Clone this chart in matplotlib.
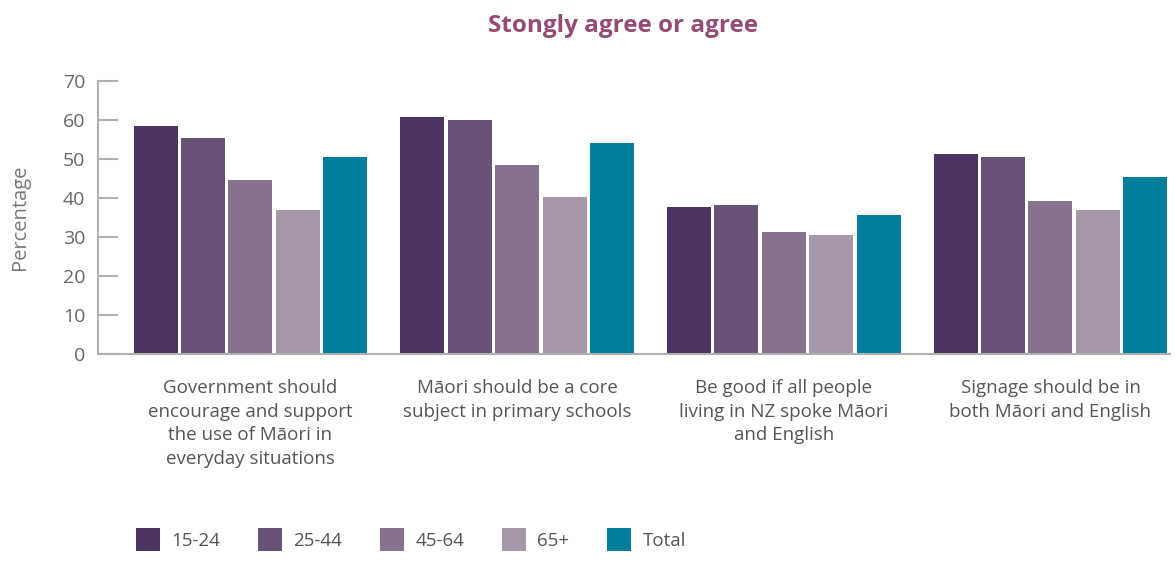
import matplotlib.pyplot as plt
import numpy as np

plt.rcParams['font.family'] = ['Open Sans', 'DejaVu Sans']

categories = ['Government should\nencourage and support\nthe use of Māori in\neveryday situations',
              'Māori should be a core\nsubject in primary schools',
              'Be good if all people\nliving in NZ spoke Māori\nand English',
              'Signage should be in\nboth Māori and English']
groups = ['15-24', '25-44', '45-64', '65+', 'Total']
v_15_24 = [58.5, 60.8, 37.8, 51.3]
v_25_44 = [55.4, 60.0, 38.3, 50.6]
v_45_64 = [44.7, 48.5, 31.4, 39.1]
v_65 = [37.0, 40.3, 30.4, 37.0]
v_total = [50.6, 54.2, 35.7, 45.5]
values = [v_15_24, v_25_44, v_45_64, v_65, v_total]
colors = ['#4b3461', '#675275', '#86728c', '#a797ab', '#007d9c']

fig = plt.figure(figsize=(11.76, 5.62), dpi=100)
ax = fig.add_axes([0.0833, 0.370, 0.912, 0.486])

x = np.arange(len(categories))
stride = 0.178
width = 0.165
bars = []
for i in range(len(groups)):
    b = ax.bar(x + (i - 2) * stride, values[i], width=width, color=colors[i], label=groups[i])
    bars.append(b)

ax.set_xlim(-0.572, 3.45)
ax.set_ylim(0, 70)
ax.set_yticks(range(0, 71, 10))
for s in ['top', 'right']:
    ax.spines[s].set_visible(False)
for s in ['left', 'bottom']:
    ax.spines[s].set_color('#b0b0b0')
    ax.spines[s].set_linewidth(1.5)
ax.tick_params(axis='y', direction='in', length=14.5, width=1.5, color='#b0b0b0',
               labelsize=14, labelcolor='#666666', pad=9)
ax.set_xticks(x)
ax.set_xticklabels(categories, fontsize=13.5, color='#555555', linespacing=1.4)
ax.tick_params(axis='x', length=0, pad=18)
ax.set_ylabel('Percentage', fontsize=14.5, color='#777777', labelpad=24)

fig.text(0.53, 0.953, 'Stongly agree or agree', ha='center', va='center',
         fontsize=17.5, fontweight='bold', color='#954b73')

fig.legend(handles=bars, labels=groups, loc='center left', bbox_to_anchor=(0.101, 0.040),
           ncol=5, frameon=False, fontsize=13.5, handlelength=1.3, handleheight=1.5,
           handletextpad=0.6, columnspacing=2.0, labelcolor='#555555')

fig.savefig('out.png', dpi=100)
